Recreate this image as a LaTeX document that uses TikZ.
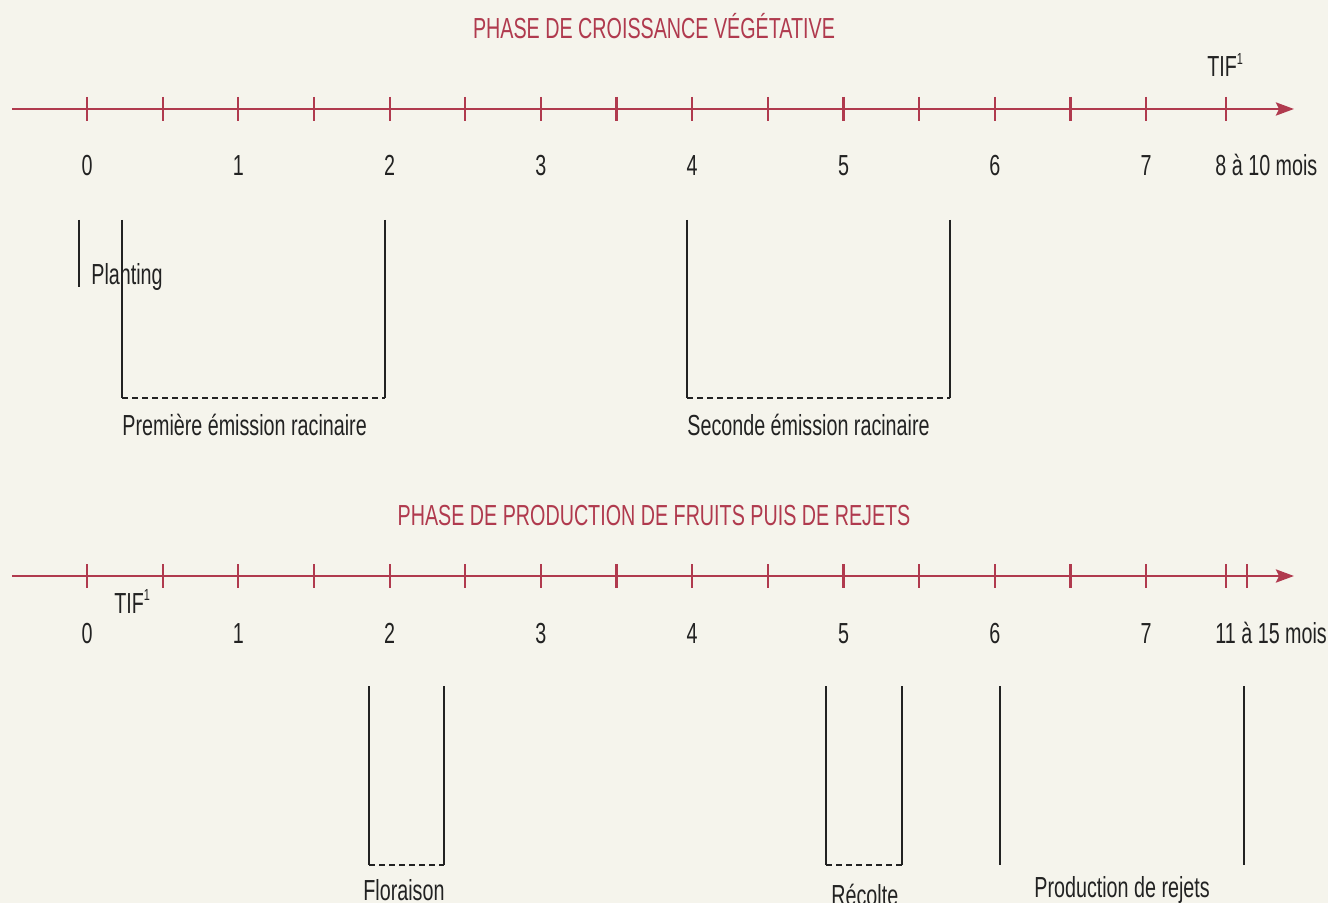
\documentclass[tikz,border=0pt]{standalone}
\usepackage{fontspec}
\setmainfont[FakeStretch=0.68]{Liberation Sans}
\usetikzlibrary{arrows.meta}
\definecolor{bg}{HTML}{F5F4EC}
\definecolor{wine}{HTML}{B03A4E}
\definecolor{ink}{HTML}{222222}
\newcommand{\supone}{\raisebox{0.42em}{\fontsize{8}{8}\selectfont 1}}
\begin{document}
\begin{tikzpicture}[x=0.5pt,y=-0.5pt,
 axis/.style={draw=wine,line width=1.4pt,-{Stealth[length=9pt,width=6.5pt,inset=1.5pt]}},
 tickmark/.style={draw=wine,line width=1.1pt},
 brk/.style={draw=ink,line width=0.6pt},
 brkdash/.style={brk,dash pattern=on 3pt off 2pt},
 lbl/.style={font=\fontsize{14.5}{16}\selectfont,text=ink,inner sep=0pt,anchor=base west},
 num/.style={font=\fontsize{14.5}{16}\selectfont,text=ink,inner sep=0pt,anchor=base},
 ttl/.style={font=\fontsize{14.5}{16}\selectfont,text=wine,inner sep=0pt,anchor=base}]
\fill[bg] (0,0) rectangle (1328,903);
\useasboundingbox (0,0) rectangle (1328,903);

% titles
\node[ttl] (t1) at (654,39) {PHASE DE CROISSANCE VÉGÉTATIVE};
\node[ttl] (t2) at (654,525) {PHASE DE PRODUCTION DE FRUITS PUIS DE REJETS};

% axis 1
\coordinate (a1s) at (12,109);
\coordinate (a1e) at (1294,109);
\draw[axis] (a1s) -- (a1e);
\foreach \i in {0,...,14} {
  \draw[tickmark] ({87+75.65*\i},97) -- ({87+75.65*\i},121);
}
\draw[tickmark] (1226,97) -- (1226,121);

% axis 2
\coordinate (a2s) at (12,576);
\coordinate (a2e) at (1294,576);
\draw[axis] (a2s) -- (a2e);
\foreach \i in {0,...,14} {
  \draw[tickmark] ({87+75.65*\i},564) -- ({87+75.65*\i},588);
}
\draw[tickmark] (1226,564) -- (1226,588);
\draw[tickmark] (1247,564) -- (1247,588);

% numbers axis 1
\foreach \n in {0,...,7} {
  \node[num] (u\n) at ({87+151.3*\n},176) {\n};
}
\node[lbl] (u8) at (1215,176) {8 à 10 mois};
\node[lbl] (tifa) at (1207,77) {TIF\supone};

% numbers axis 2
\foreach \n in {0,...,7} {
  \node[num] (v\n) at ({87+151.3*\n},643) {\n};
}
\node[lbl] (v8) at (1215,643) {11 à 15 mois};
\node[lbl] (tifb) at (114,613) {TIF\supone};

% Planting
\coordinate (pl1) at (79,220);
\coordinate (pl2) at (79,287);
\draw[brk] (pl1) -- (pl2);
\node[lbl] (plant) at (91,285) {Planting};

% Premiere emission
\coordinate (e1a) at (122,220);
\coordinate (e1b) at (122,398);
\coordinate (e1c) at (385,398);
\coordinate (e1d) at (385,220);
\draw[brk] (e1a) -- (e1b);
\draw[brk] (e1d) -- (e1c);
\draw[brkdash] (e1b) -- (e1c);
\node[lbl] (prem) at (122,436) {Première émission racinaire};

% Seconde emission
\coordinate (e2a) at (687,220);
\coordinate (e2b) at (687,398);
\coordinate (e2c) at (950,398);
\coordinate (e2d) at (950,220);
\draw[brk] (e2a) -- (e2b);
\draw[brk] (e2d) -- (e2c);
\draw[brkdash] (e2b) -- (e2c);
\node[lbl] (sec) at (687,436) {Seconde émission racinaire};

% Floraison
\coordinate (f1) at (369,686);
\coordinate (f2) at (369,865);
\coordinate (f3) at (444,865);
\coordinate (f4) at (444,686);
\draw[brk] (f1) -- (f2);
\draw[brk] (f4) -- (f3);
\draw[brkdash] (f2) -- (f3);
\node[lbl] (flor) at (363,900) {Floraison};

% Recolte
\coordinate (r1) at (826,686);
\coordinate (r2) at (826,865);
\coordinate (r3) at (902,865);
\coordinate (r4) at (902,686);
\draw[brk] (r1) -- (r2);
\draw[brk] (r4) -- (r3);
\draw[brkdash] (r2) -- (r3);
\node[lbl] (rec) at (831,905) {Récolte};

% Production de rejets
\coordinate (p1) at (1000,686);
\coordinate (p2) at (1000,865);
\coordinate (p3) at (1244,686);
\coordinate (p4) at (1244,865);
\draw[brk] (p1) -- (p2);
\draw[brk] (p3) -- (p4);
\node[lbl] (prod) at (1034,897) {Production de rejets};
\end{tikzpicture}
\end{document}
